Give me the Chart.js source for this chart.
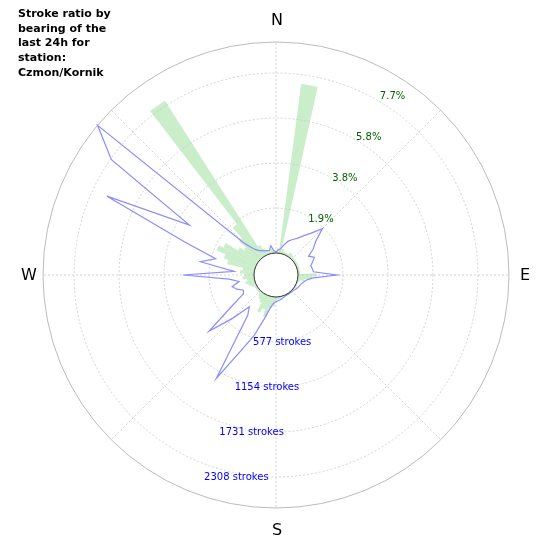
<!DOCTYPE html>
<html><head><meta charset="utf-8">
<script src="https://cdn.jsdelivr.net/npm/chart.js@4/dist/chart.umd.min.js"></script>
<style>
html,body{margin:0;padding:0;background:#fff;}
#wrap{position:relative;width:550px;height:550px;}
canvas{position:absolute;left:0;top:0;}
</style></head>
<body><div id="wrap"><canvas id="g" width="550" height="550"></canvas><canvas id="b" width="550" height="550"></canvas></div>
<script>
const bearings = [];
for (let d = 0; d < 360; d += 5) bearings.push(d);
const strokes = [15,40,60,120,180,220,260,330,420,560,380,300,200,260,220,180,190,200,
  500,180,110,80,60,50,40,30,20,15,10,10,10,10,20,30,40,50,
  60,80,150,300,550,800,1250,350,250,500,840,400,200,180,250,300,200,320,
  910,260,700,520,975,2110,1000,2295,2705,300,150,100,80,60,50,40,100,30];
const ratio = [0.1,0.2,7.3,0.2,0.1,0.1,0.1,0.2,0.15,0.1,0.1,0.1,0.1,0.1,0.1,0.1,0.1,0.1,
  0.8,0.6,0.3,0.1,0.05,0.05,0.05,0.05,0.05,0.05,0.05,0.05,0.05,0.05,0.05,0.05,0.1,0.1,
  0.2,0.4,0.5,0.9,0.6,0.8,0.4,0.3,0.2,0.1,0.1,0.1,0.1,0.2,0.3,0.4,0.3,0.5,
  0.4,0.6,0.5,1.2,1.4,1.8,1.6,1.0,0.8,1.2,1.8,7.9,0.5,0.3,0.2,0.1,0.2,0.1];
const strokeTicks = [577,1154,1731,2308];
const ratioTicks = [1.9,3.8,5.8,7.7];
const cardinals = ['N','E','S','W'];
const title = ['Stroke ratio by','bearing of the','last 24h for','station:','Czmon/Kornik'];

const STROKE_MIN = -282, STROKE_MAX = 2706;
const RATIO_MIN = -0.941, RATIO_MAX = 9.026;
const pad = {left:43,right:41,top:42,bottom:42};
const FONT = "'DejaVu Sans', sans-serif";

const hiddenScale = (min,max,start) => ({
  min, max, beginAtZero:false, startAngle:start,
  ticks:{display:false}, grid:{display:false}, angleLines:{display:false}, pointLabels:{display:false}
});

new Chart(document.getElementById('g'), {
  type:'polarArea',
  data:{labels:bearings, datasets:[{data:ratio, backgroundColor:'rgba(150,220,150,0.5)', borderWidth:0}]},
  options:{responsive:false, animation:false, layout:{padding:pad},
    plugins:{legend:{display:false}, tooltip:{enabled:false}},
    scales:{r:hiddenScale(RATIO_MIN,RATIO_MAX,-2.5)}}
});

const decor = {
  id:'decor',
  beforeDatasetsDraw(chart){
    const s = chart.scales.r, ctx = chart.ctx;
    ctx.save();
    ctx.strokeStyle = '#c8c8c8'; ctx.lineWidth = 0.8; ctx.setLineDash([2,2]);
    strokeTicks.forEach(v => {
      ctx.beginPath(); ctx.arc(s.xCenter, s.yCenter, s.getDistanceFromCenterForValue(v), 0, Math.PI*2); ctx.stroke();
    });
    for (let i = 0; i < 72; i += 9) {
      const a = s.getPointPositionForValue(i, 0), b = s.getPointPositionForValue(i, STROKE_MAX);
      ctx.beginPath(); ctx.moveTo(a.x,a.y); ctx.lineTo(b.x,b.y); ctx.stroke();
    }
    ctx.setLineDash([]); ctx.strokeStyle = '#aaaaaa';
    ctx.beginPath(); ctx.arc(s.xCenter, s.yCenter, s.getDistanceFromCenterForValue(STROKE_MAX), 0, Math.PI*2); ctx.stroke();
    ctx.restore();
  },
  afterDatasetsDraw(chart){
    const s = chart.scales.r, ctx = chart.ctx;
    const cx = s.xCenter, cy = s.yCenter;
    ctx.save();
    const r0 = s.getDistanceFromCenterForValue(0);
    ctx.beginPath(); ctx.arc(cx, cy, r0, 0, Math.PI*2);
    ctx.fillStyle = '#fff'; ctx.fill(); ctx.strokeStyle = '#000'; ctx.lineWidth = 0.8; ctx.stroke();
    ctx.textAlign = 'center'; ctx.textBaseline = 'middle';
    ctx.font = '10px ' + FONT; ctx.fillStyle = '#0000ff';
    strokeTicks.forEach(v => {
      const r = s.getDistanceFromCenterForValue(v);
      ctx.fillText(v + ' strokes', cx + 29 - 0.34*r, cy + r);
    });
    ctx.fillStyle = '#006400';
    ratioTicks.forEach((v,i) => {
      const r = s.getDistanceFromCenterForValue(strokeTicks[i]);
      ctx.fillText(v + '%', cx + 9.5 + 0.53*r, cy + 5 - 0.91*r);
    });
    ctx.fillStyle = '#000'; ctx.font = '16px ' + FONT;
    const Rout = s.getDistanceFromCenterForValue(STROKE_MAX);
    cardinals.forEach((c,i) => {
      const p = s.getPointPositionForValue(i*18, STROKE_MAX);
      const dx = p.x - cx, dy = p.y - cy, L = Math.hypot(dx,dy);
      const R = Rout + (i % 2 ? 15 : 22);
      ctx.fillText(c, cx + dx/L*R + 1, cy + dy/L*R + 1);
    });
    ctx.textAlign = 'left'; ctx.font = 'bold 11px ' + FONT;
    title.forEach((t,i) => ctx.fillText(t, 18, 14 + i*14.8));
    ctx.restore();
  }
};

new Chart(document.getElementById('b'), {
  type:'radar',
  data:{labels:bearings, datasets:[{data:strokes, borderColor:'#8c8cff', borderWidth:1.2, fill:false, pointRadius:0, tension:0}]},
  options:{responsive:false, animation:false, layout:{padding:pad},
    plugins:{legend:{display:false}, tooltip:{enabled:false}},
    scales:{r:hiddenScale(STROKE_MIN,STROKE_MAX,0)}},
  plugins:[decor]
});
</script></body></html>
